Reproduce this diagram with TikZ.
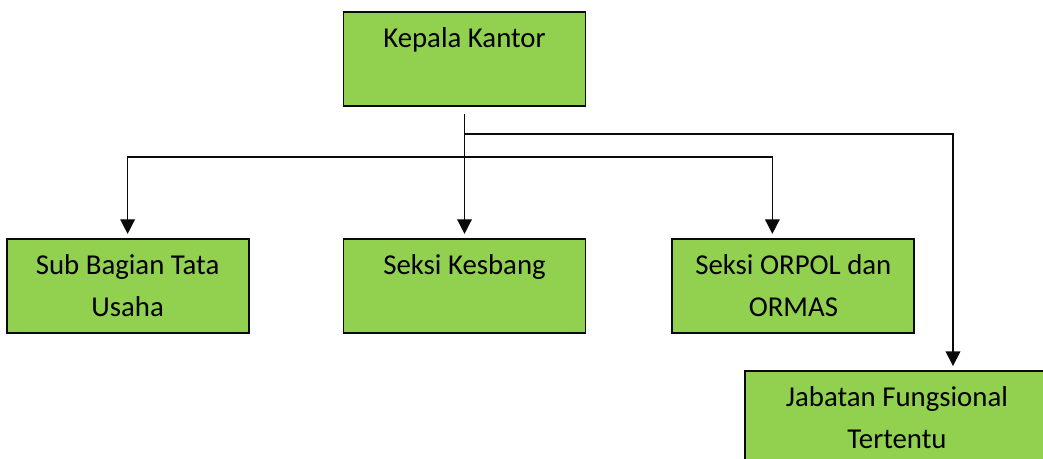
\documentclass[tikz,border=0pt]{standalone}
\usepackage{fontspec}
\setmainfont{Carlito}
\usepackage{tikz}
\usetikzlibrary{positioning}
\usetikzlibrary{calc}
\usetikzlibrary{arrows.meta}
\definecolor{hijau}{RGB}{146,208,80}
\definecolor{hitam}{RGB}{10,10,10}
\tikzset{
  bagan/.style={
    kotak/.style={rectangle, draw=hitam, line width=1.4pt, fill=hijau,
        minimum width=181.5pt, minimum height=70.5pt, inner sep=0pt,
        align=center, font={\fontsize{21.6}{31.5}\selectfont}},
    panah/.style={draw=hitam, line width=1.1pt,
        -{Triangle[length=11pt,width=11pt]}, shorten >=3pt},
  }
}

\begin{document}
\begin{tikzpicture}
[
    bagan,
    x=0.75pt, y=-0.75pt
]
    \clip (0,0) rectangle (1043,459);

    \node[kotak] (kepala) at (464.5,59) {Kepala Kantor\\\mbox{}};
    \node[kotak, below=98.25pt of kepala] (kesbang) {Seksi Kesbang\\\mbox{}};
    \node[kotak, left=69.75pt of kesbang] (subbag) {Sub Bagian Tata\\Usaha};
    \node[kotak, right=63.75pt of kesbang] (orpol) {Seksi ORPOL dan\\ORMAS};
    \node[kotak, minimum width=228pt] (jabatan) at (897,418) {Jabatan Fungsional\\Tertentu};

    \coordinate (pangkal) at ([yshift=-5.25pt]kepala.south);
    \coordinate (cabang) at ($(pangkal)+(0,20)$);
    \coordinate (bagi) at ($(pangkal)+(0,43)$);

    \draw[panah] (pangkal) -- (kesbang.north);
    \draw[panah] (bagi) -| (subbag.north);
    \draw[panah] (bagi) -| ($(orpol.north)+(-21,0)$);
    \draw[panah] (cabang) -| ($(jabatan.north)+(56,0)$);
\end{tikzpicture}
\end{document}
